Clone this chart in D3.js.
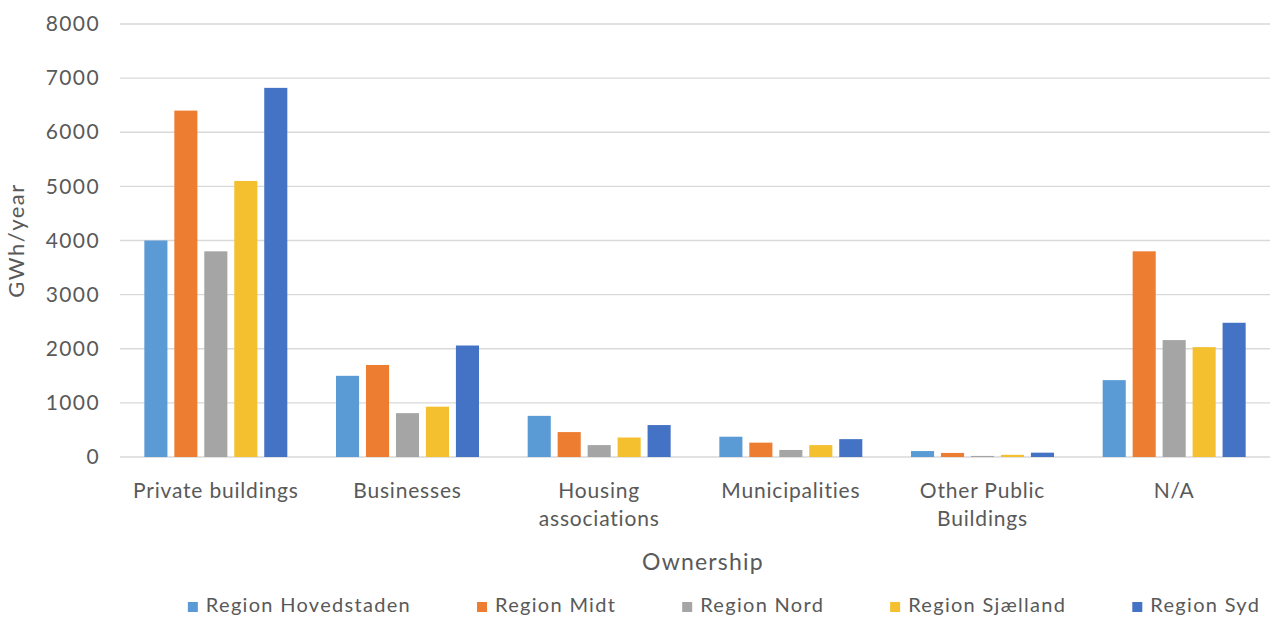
<!DOCTYPE html>
<html>
<head>
	<meta charset="utf-8">
	<script src="https://cdnjs.cloudflare.com/ajax/libs/d3/7.8.5/d3.min.js"></script>
	<style>
		body { margin: 0; background: #fff; }
		text { font-family: Lato, "Open Sans", sans-serif; fill: #595959; }
	</style>
</head>
<body>
	<svg width="1278" height="621"></svg>
	<script>
		// data
		const categories = ["Private buildings", "Businesses", "Housing associations", "Municipalities", "Other Public Buildings", "N/A"];
		const regions = ["Region Hovedstaden", "Region Midt", "Region Nord", "Region Sjælland", "Region Syd"];
		const hovedstaden = [4000, 1500, 760, 375, 110, 1420];
		const midt = [6400, 1700, 460, 265, 75, 3800];
		const nord = [3800, 810, 220, 130, 20, 2160];
		const sjaelland = [5100, 930, 360, 220, 40, 2030];
		const syd = [6820, 2060, 590, 330, 80, 2480];
		const yTicks = [0, 1000, 2000, 3000, 4000, 5000, 6000, 7000, 8000];
		const colors = ["#5b9bd5", "#ed7d31", "#a5a5a5", "#f4c02f", "#4472c4"];

		const series = [hovedstaden, midt, nord, sjaelland, syd];
		const data = categories.map((c, i) => {
			let row = {category: c};
			regions.forEach((r, j) => row[r] = series[j][i]);
			return row;
		});

		let svg = d3.select("svg"),
			margin = {top: 24, right: 8, bottom: 164, left: 120},
			width = +svg.attr("width") - margin.left - margin.right,
			height = +svg.attr("height") - margin.top - margin.bottom,
			g = svg.append("g").attr("transform", "translate(" + margin.left + "," + margin.top + ")");

		let x0 = d3.scaleBand().domain(categories).range([0, width]).padding(0),
			bw = x0.bandwidth(),
			x1 = d3.scaleBand().domain(regions).range([bw * 0.127, bw * 0.873]).paddingInner(0.23),
			y = d3.scaleLinear().domain([0, 8000]).range([height, 0]),
			z = d3.scaleOrdinal().domain(regions).range(colors);

		// gridlines
		g.append("g")
			.selectAll("line")
			.data(yTicks)
			.enter()
			.append("line")
			.attr("x1", 0)
			.attr("x2", width)
			.attr("y1", d => y(d))
			.attr("y2", d => y(d))
			.attr("stroke", "#d9d9d9")
			.attr("stroke-width", 1.3);

		// y tick labels
		let yAxis = g.append("g")
			.call(d3.axisLeft(y).tickValues(yTicks).tickFormat(d3.format("d")).tickSize(0).tickPadding(20));
		yAxis.select(".domain").remove();
		yAxis.selectAll("text")
			.style("font-size", "21px")
			.style("letter-spacing", "1.4px")
			.attr("fill", "#595959");

		// bars
		g.append("g")
			.selectAll("g")
			.data(data)
			.enter()
			.append("g")
			.attr("transform", d => "translate(" + x0(d.category) + ",0)")
			.selectAll("rect")
			.data(d => regions.map(r => ({key: r, value: d[r]})))
			.enter()
			.append("rect")
			.attr("x", d => x1(d.key))
			.attr("y", d => y(d.value))
			.attr("width", x1.bandwidth())
			.attr("height", d => height - y(d.value))
			.attr("fill", d => z(d.key));

		// x axis labels
		let xAxis = g.append("g")
			.attr("transform", "translate(0," + height + ")")
			.call(d3.axisBottom(x0).tickSize(0).tickPadding(26));
		xAxis.select(".domain").remove();
		xAxis.selectAll("text")
			.style("font-size", "21px")
			.style("letter-spacing", "0.8px")
			.attr("fill", "#595959")
			.call(wrap, bw - 8);

		function wrap(texts, w) {
			texts.each(function() {
				let text = d3.select(this),
					words = text.text().split(/\s+/),
					yy = text.attr("y"),
					dy = parseFloat(text.attr("dy")),
					lines = [], line = [];
				text.text(null);
				let tspan = text.append("tspan").attr("x", 0).attr("y", yy).attr("dy", dy + "em");
				words.forEach(word => {
					line.push(word);
					tspan.text(line.join(" "));
					if (tspan.node().getComputedTextLength() > w && line.length > 1) {
						line.pop();
						tspan.text(line.join(" "));
						line = [word];
						lines.push(tspan);
						tspan = text.append("tspan").attr("x", 0).attr("y", yy).attr("dy", (dy + 1.33 * (lines.length)) + "em").text(word);
					}
				});
			});
		}

		// axis titles
		svg.append("text")
			.attr("x", margin.left + width / 2 + 8)
			.attr("y", 570)
			.attr("text-anchor", "middle")
			.style("font-size", "23px")
			.style("letter-spacing", "1.2px")
			.text("Ownership");

		svg.append("text")
			.attr("transform", "translate(24," + (margin.top + height / 2) + ") rotate(-90)")
			.attr("text-anchor", "middle")
			.style("font-size", "22px")
			.style("letter-spacing", "1.5px")
			.text("GWh/year");

		// legend
		let legend = svg.append("g").attr("class", "legend");
		let items = legend.selectAll("g")
			.data(regions)
			.enter()
			.append("g");
		items.append("rect")
			.attr("width", 10)
			.attr("height", 10)
			.attr("y", -10)
			.attr("fill", z);
		items.append("text")
			.attr("x", 18)
			.attr("y", 0)
			.style("font-size", "20px")
			.style("letter-spacing", "1.3px")
			.text(d => d);
		let gap = 66, pos = 0, offsets = [];
		items.each(function() {
			offsets.push(pos);
			pos += 18 + d3.select(this).select("text").node().getComputedTextLength() + gap;
		});
		let total = pos - gap, start = 724 - total / 2;
		items.attr("transform", (d, i) => "translate(" + (start + offsets[i]) + ",612)");
	</script>
</body>
</html>
